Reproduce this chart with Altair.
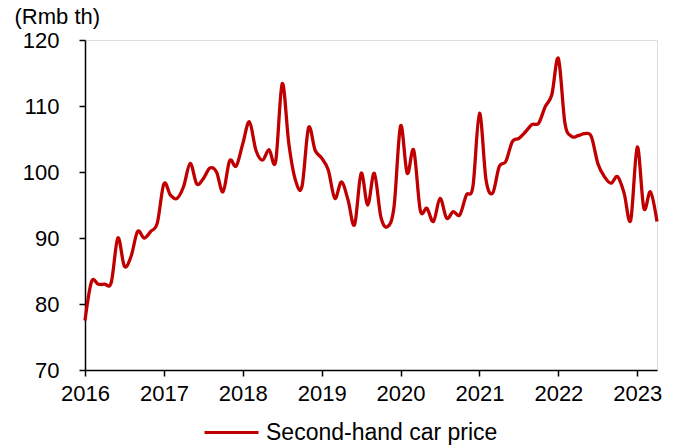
import altair as alt
import pandas as pd

# Monthly second-hand car price (Rmb th), Jan 2016 - Apr 2023
y2016 = [77.5, 83.4, 83.0, 83.0, 83.3, 90.0, 85.7, 87.2, 91.0, 90.0, 91.0, 92.3]
y2017 = [98.2, 96.5, 96.0, 97.8, 101.3, 98.2, 99.0, 100.6, 100.0, 97.0, 101.7, 100.9]
y2018 = [104.3, 107.6, 103.3, 101.8, 103.4, 101.6, 113.4, 104.3, 98.8, 97.8, 106.7, 103.3]
y2019 = [102.1, 100.3, 96.0, 98.5, 95.8, 92.0, 99.8, 95.0, 99.8, 93.2, 91.7, 94.7]
y2020 = [107.0, 99.8, 103.3, 94.2, 94.5, 92.5, 96.0, 93.0, 94.0, 93.5, 96.5, 97.8]
y2021 = [108.9, 98.8, 96.8, 100.8, 101.6, 104.6, 105.1, 106.1, 107.2, 107.4, 109.9, 111.7]
y2022 = [117.2, 107.4, 105.4, 105.5, 105.8, 105.4, 101.3, 99.3, 98.3, 99.3, 96.8, 92.7]
y2023 = [103.8, 94.5, 97.0, 92.5]

years = [2016, 2017, 2018, 2019, 2020, 2021, 2022, 2023]
series_name = "Second-hand car price"

values = y2016 + y2017 + y2018 + y2019 + y2020 + y2021 + y2022 + y2023
t = [2016 + i / 12 for i in range(len(values))]
df = pd.DataFrame({"t": t, "price": values, "series": series_name})

FONT = "Liberation Sans"
FS = 22

chart = alt.Chart(df).mark_line(
    color="#C00000", strokeWidth=3.3, interpolate="cardinal"
).encode(
    x=alt.X("t:Q",
            scale=alt.Scale(domain=[2016, 2023.25], nice=False, zero=False),
            axis=alt.Axis(values=years, format="d", title=None, grid=False,
                          labelFontSize=FS, labelColor="#000000", labelFont=FONT,
                          domainColor="#000000", domainWidth=1.5,
                          tickColor="#000000", tickSize=6, tickWidth=1.5,
                          labelPadding=7, labelFlush=False)),
    y=alt.Y("price:Q",
            scale=alt.Scale(domain=[70, 120], nice=False, zero=False),
            axis=alt.Axis(values=[70, 80, 90, 100, 110, 120], title="(Rmb th)",
                          titleAngle=0, titleX=-71, titleY=-17, titleAlign="left",
                          titleBaseline="alphabetic", titleFontSize=22,
                          titleFontWeight="normal", titleFont=FONT, titleColor="#000000",
                          grid=False, labelFontSize=FS, labelColor="#000000",
                          labelFont=FONT, domainColor="#000000", domainWidth=1.5,
                          tickColor="#000000", tickSize=6, tickWidth=1.5,
                          labelPadding=20)),
    color=alt.Color("series:N",
                    scale=alt.Scale(range=["#C00000"]),
                    legend=alt.Legend(title=None, orient="none", legendX=118, legendY=364,
                                      symbolType="stroke", symbolSize=2916,
                                      symbolStrokeWidth=3, labelFontSize=23,
                                      labelFont=FONT, labelColor="#000000",
                                      labelOffset=6, labelLimit=500)),
).properties(
    width=572, height=330,
    autosize=alt.AutoSizeParams(type="none"),
    padding={"left": 85, "top": 40, "right": 26, "bottom": 76},
).configure_view(stroke=None).configure(background="white")

chart.save("out.html", embed_options={"renderer": "svg", "actions": False})
